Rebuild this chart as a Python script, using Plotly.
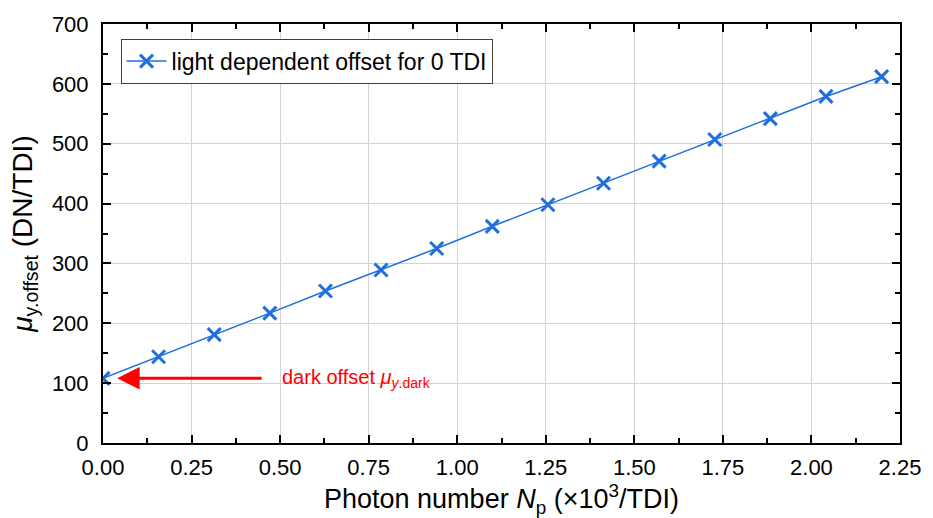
import plotly.graph_objects as go

photon_number = [0.0, 0.157, 0.314, 0.471, 0.628, 0.785, 0.942, 1.099, 1.256,
                 1.413, 1.570, 1.727, 1.884, 2.041, 2.198]
offset_values = [108, 144, 181, 217, 254, 289, 325, 362, 398,
                 434, 471, 507, 542, 579, 612]
series_name = "light dependent offset for 0 TDI"
x_ticks = [0.0, 0.25, 0.5, 0.75, 1.0, 1.25, 1.5, 1.75, 2.0, 2.25]
y_ticks = [0, 100, 200, 300, 400, 500, 600, 700]

blue = "#1F6FDD"
font = "Liberation Sans, Arial, sans-serif"

fig = go.Figure()
fig.add_trace(go.Scatter(
    x=photon_number, y=offset_values, mode="lines+markers", name=series_name,
    line=dict(color=blue, width=1.5),
    marker=dict(symbol="x-thin", size=13, line=dict(color=blue, width=3), color=blue),
))

axis_common = dict(
    showline=True, linecolor="black", linewidth=2, mirror="allticks",
    ticks="inside", ticklen=8, tickwidth=2, tickcolor="black",
    showgrid=True, gridcolor="#D3D3D3", gridwidth=1, zeroline=False,
    tickfont=dict(family=font, size=22, color="black"),
)

fig.update_xaxes(
    range=[0, 2.25], tickvals=x_ticks, ticktext=[f"{v:.2f}" for v in x_ticks],
    ticklabelstandoff=4,
    minor=dict(ticks="inside", ticklen=5, tickwidth=2, tickcolor="black", dtick=0.125, tick0=0, showgrid=False),
    title=dict(text="Photon number <i>N</i><sub>p</sub> (×10<sup>3</sup>/TDI)",
               font=dict(family=font, size=27, color="black"), standoff=7),
    **axis_common,
)
fig.update_yaxes(
    range=[0, 700], tickvals=y_ticks,
    ticklabelstandoff=8,
    minor=dict(ticks="inside", ticklen=5, tickwidth=2, tickcolor="black", dtick=50, tick0=0, showgrid=False),
    title=dict(text="<i>μ</i><sub>y.offset</sub> (DN/TDI)",
               font=dict(family=font, size=28, color="black"), standoff=11),
    **axis_common,
)

fig.add_annotation(
    x=0.04, y=108, xref="x", yref="y", ax=0.452, ay=108, axref="x", ayref="y",
    text="", showarrow=True, arrowhead=2, arrowsize=1.5, arrowwidth=3, arrowcolor="#FF0000",
)
fig.add_annotation(
    x=0.5, y=108, xref="x", yref="y", xanchor="left", yanchor="middle",
    text="dark offset <i>μ</i><sub><i>y</i>.dark</sub>", showarrow=False,
    font=dict(family=font, size=20, color="#FF0000"),
)

fig.update_layout(
    width=933, height=518,
    margin=dict(l=103, r=22, t=20, b=75),
    paper_bgcolor="white", plot_bgcolor="white",
    showlegend=True,
    legend=dict(x=0.022, y=0.965, xanchor="left", yanchor="top",
                bordercolor="#404040", borderwidth=1, bgcolor="white",
                font=dict(family=font, size=23, color="black"),
                itemwidth=40, tracegroupgap=0),
)

fig.write_html("out.html")
